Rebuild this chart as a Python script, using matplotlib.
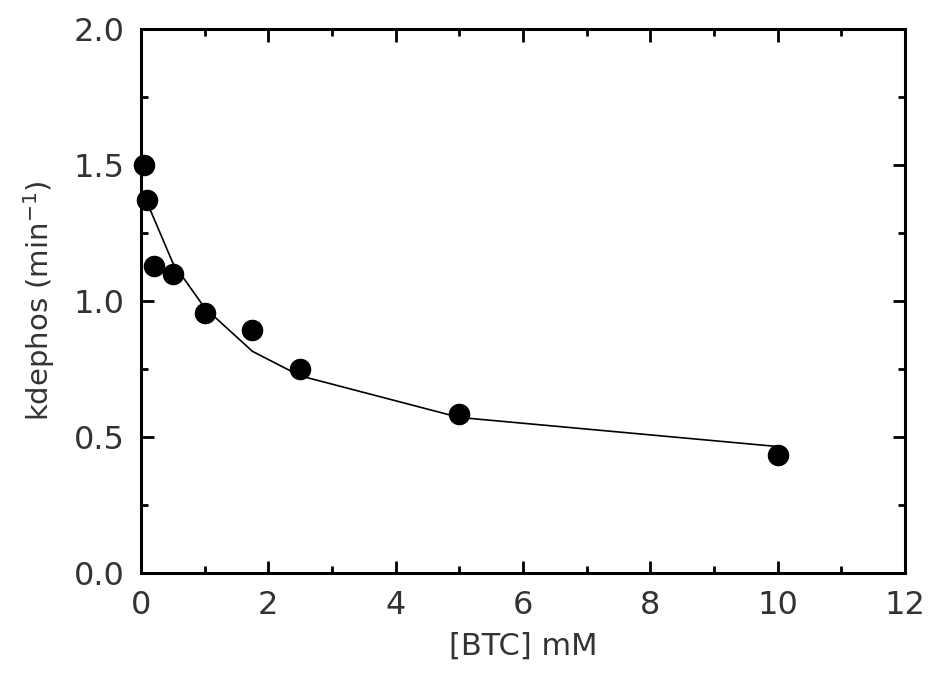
import numpy as np
import matplotlib
matplotlib.use("Agg")
import matplotlib.pyplot as plt
from matplotlib.ticker import MultipleLocator

# measured points
btc = np.array([0.05, 0.1, 0.2, 0.5, 1.0, 1.75, 2.5, 5.0, 10.0])
kdephos = np.array([1.50, 1.37, 1.13, 1.10, 0.955, 0.895, 0.75, 0.585, 0.435])

# fitted curve
fit_x = np.array([0.1, 0.2, 0.5, 1.0, 1.75, 2.5, 5.0, 10.0])
fit_y = np.array([1.36, 1.305, 1.14, 0.975, 0.815, 0.725, 0.572, 0.465])

plt.rcParams['font.family'] = 'DejaVu Sans'

fig = plt.figure(figsize=(9.32, 6.75), dpi=100)
ax = fig.add_axes([0.1513, 0.1511, 0.8197, 0.8059])

ax.plot(fit_x, fit_y, '-', color='black', lw=1.2)
ax.plot(btc, kdephos, 'o', color='black', ms=14.5, clip_on=False, zorder=3)

ax.set_xlim(0, 12)
ax.set_ylim(0, 2.0)
ax.xaxis.set_major_locator(MultipleLocator(2))
ax.xaxis.set_minor_locator(MultipleLocator(1))
ax.yaxis.set_major_locator(MultipleLocator(0.5))
ax.yaxis.set_minor_locator(MultipleLocator(0.25))
ax.yaxis.set_major_formatter(plt.FormatStrFormatter('%.1f'))

for s in ax.spines.values():
    s.set_linewidth(2.2)
ax.tick_params(which='both', direction='in', top=True, right=True, width=2)
ax.tick_params(which='major', length=9, labelsize=23, pad=12, colors='black')
ax.tick_params(which='minor', length=5)
for lab in ax.get_xticklabels() + ax.get_yticklabels():
    lab.set_color('#333333')

ax.set_xlabel('[BTC] mM', fontsize=22, color='#333333', labelpad=8)
ax.set_ylabel('kdephos (min$^{-1}$)', fontsize=21, color='#333333', labelpad=12)

fig.savefig('out.png', dpi=100)
